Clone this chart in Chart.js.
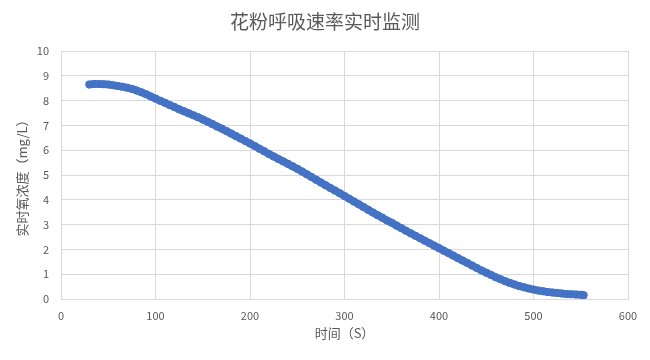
<!DOCTYPE html>
<html>
<head>
<meta charset="utf-8">
<script src="https://cdn.jsdelivr.net/npm/chart.js@4"></script>
<style>
html,body{margin:0;padding:0;background:#fff;}
#wrap{width:650px;height:360px;position:relative;}
</style>
</head>
<body>
<div id="wrap"><canvas id="c" width="650" height="360"></canvas></div>
<script>
const chartTitle = "花粉呼吸速率实时监测";
const xAxisTitle = "时间（S）";
const yAxisTitle = "实时氧浓度（mg/L）";
const timeSec = [30,35,40,45,50,55,60,65,70,75,80,85,90,95,100,105,110,115,120,125,130,135,140,145,150,155,160,165,170,175,180,185,190,195,200,205,210,215,220,225,230,235,240,245,250,255,260,265,270,275,280,285,290,295,300,305,310,315,320,325,330,335,340,345,350,355,360,365,370,375,380,385,390,395,400,405,410,415,420,425,430,435,440,445,450,455,460,465,470,475,480,485,490,495,500,505,510,515,520,525,530,535,540,545,550,553];
const oxygen = [8.65,8.67,8.67,8.66,8.65,8.62,8.59,8.56,8.52,8.47,8.41,8.34,8.26,8.17,8.08,7.99,7.91,7.82,7.74,7.65,7.57,7.49,7.41,7.33,7.24,7.15,7.06,6.96,6.87,6.77,6.67,6.57,6.47,6.37,6.27,6.17,6.06,5.96,5.85,5.75,5.65,5.55,5.45,5.35,5.25,5.14,5.03,4.92,4.81,4.70,4.59,4.48,4.37,4.26,4.15,4.04,3.93,3.82,3.71,3.60,3.49,3.38,3.28,3.17,3.07,2.96,2.86,2.75,2.65,2.55,2.45,2.35,2.25,2.15,2.05,1.95,1.85,1.75,1.65,1.55,1.45,1.35,1.25,1.15,1.06,0.97,0.88,0.80,0.72,0.65,0.58,0.52,0.47,0.42,0.38,0.34,0.31,0.28,0.26,0.24,0.22,0.20,0.19,0.18,0.17,0.15];
const xMin = 0, xMax = 600, xStep = 100;
const yMin = 0, yMax = 10, yStep = 1;

const points = timeSec.map((t, i) => ({x: t, y: oxygen[i]}));
const gray = '#595959';
const grid = '#d9d9d9';
const fontFam = "'Noto Sans CJK SC', 'Noto Sans', sans-serif";

const centeredTitle = {
  id: 'centeredTitle',
  afterDraw(chart) {
    const ctx = chart.ctx;
    ctx.save();
    ctx.fillStyle = gray;
    ctx.font = "19px " + fontFam;
    ctx.textAlign = 'center';
    ctx.textBaseline = 'middle';
    ctx.fillText(chartTitle, chart.width / 2, 22);
    ctx.restore();
  }
};

new Chart(document.getElementById('c'), {
  type: 'scatter',
  data: {
    datasets: [{
      data: points,
      showLine: true,
      borderColor: '#4472C4',
      borderWidth: 7.5,
      backgroundColor: '#4472C4',
      pointRadius: 4,
      pointBorderWidth: 0,
      borderCapStyle: 'round',
      borderJoinStyle: 'round',
      tension: 0
    }]
  },
  plugins: [centeredTitle],
  options: {
    responsive: false,
    animation: false,
    devicePixelRatio: 1,
    layout: {padding: {left: 0, right: 22, top: 51, bottom: 0}},
    plugins: {
      legend: {display: false},
      tooltip: {enabled: false},
      title: {display: false}
    },
    scales: {
      x: {
        type: 'linear',
        min: xMin, max: xMax,
        ticks: {stepSize: xStep, color: gray, font: {family: fontFam, size: 11}, padding: 10},
        grid: {color: grid, drawTicks: false},
        border: {color: grid},
        title: {display: true, text: xAxisTitle, color: gray, font: {family: fontFam, size: 13}, padding: {top: 2, bottom: 19}},
        afterFit: (s) => { s.height = 61; }
      },
      y: {
        type: 'linear',
        min: yMin, max: yMax,
        ticks: {stepSize: yStep, color: gray, font: {family: fontFam, size: 11}, padding: 12},
        grid: {color: grid, drawTicks: false},
        border: {color: grid},
        title: {display: true, text: yAxisTitle, color: gray, font: {family: fontFam, size: 13}, padding: {top: 14, bottom: 6}},
        afterFit: (s) => { s.width = 61; }
      }
    }
  }
});
</script>
</body>
</html>
